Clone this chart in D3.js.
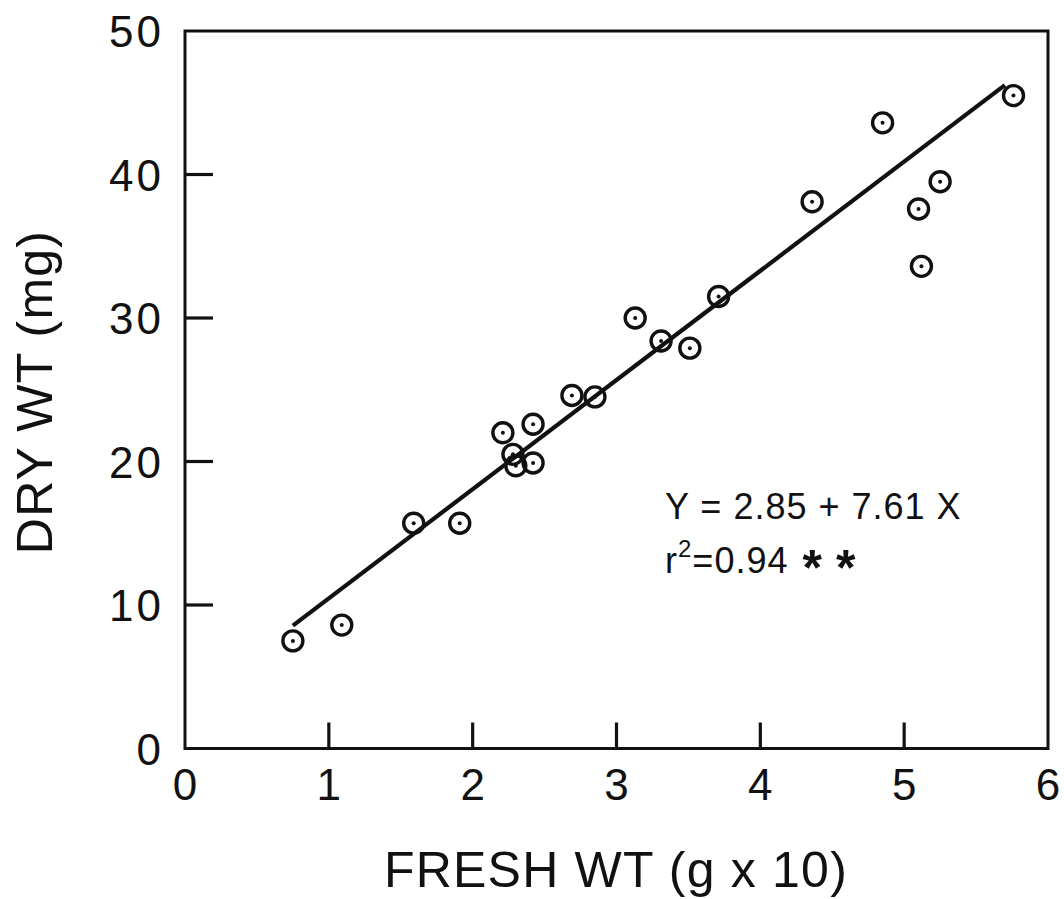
<!DOCTYPE html>
<html>
<head>
<meta charset="utf-8">
<script src="https://cdn.jsdelivr.net/npm/d3@7/dist/d3.min.js"></script>
<style>
  html, body { margin: 0; padding: 0; background: #fff; }
  svg { display: block; }
  text { font-family: "Liberation Sans", "DejaVu Sans", sans-serif; fill: #111; }
</style>
</head>
<body>
<svg id="chart" width="1064" height="899"></svg>
<script>
// Fresh weight (g x 10) and dry weight (mg) of each sample
const freshWt = [0.75, 1.09, 1.59, 1.91, 2.21, 2.28, 2.30, 2.42, 2.42, 2.69, 2.85,
                 3.13, 3.31, 3.51, 3.71, 4.36, 4.85, 5.10, 5.12, 5.25, 5.76];
const dryWt   = [7.5, 8.6, 15.7, 15.7, 22.0, 20.5, 19.7, 19.9, 22.6, 24.6, 24.5,
                 30.0, 28.4, 27.9, 31.5, 38.1, 43.6, 37.6, 33.6, 39.5, 45.5];

// Least-squares fit printed on the chart
const intercept = 2.85;
const slope = 7.61;
const fitRange = [0.75, 5.70];

const xTicks = [0, 1, 2, 3, 4, 5, 6];
const yTicks = [0, 10, 20, 30, 40, 50];

const svg = d3.select("#chart");
const x = d3.scaleLinear().domain([0, 6]).range([185, 1048]);
const y = d3.scaleLinear().domain([0, 50]).range([748.5, 31]);

const ink = "#111";

// Frame
svg.append("rect")
  .attr("x", x(0)).attr("y", y(50))
  .attr("width", x(6) - x(0)).attr("height", y(0) - y(50))
  .attr("fill", "none").attr("stroke", ink).attr("stroke-width", 3);

// Inward ticks on the bottom and left axes
svg.append("g")
  .selectAll("line").data(xTicks.filter(d => d > 0 && d < 6)).join("line")
  .attr("x1", d => x(d)).attr("x2", d => x(d))
  .attr("y1", y(0)).attr("y2", y(0) - 26)
  .attr("stroke", ink).attr("stroke-width", 3.2);

svg.append("g")
  .selectAll("line").data(yTicks.filter(d => d > 0 && d < 50)).join("line")
  .attr("y1", d => y(d)).attr("y2", d => y(d))
  .attr("x1", x(0)).attr("x2", x(0) + 28)
  .attr("stroke", ink).attr("stroke-width", 3.2);

// Tick labels
svg.append("g")
  .selectAll("text").data(xTicks).join("text")
  .attr("x", d => x(d)).attr("y", 800)
  .attr("text-anchor", "middle")
  .attr("font-size", 44)
  .text(d => d);

svg.append("g")
  .selectAll("text").data(yTicks).join("text")
  .attr("x", 164).attr("y", d => y(d) + 16)
  .attr("text-anchor", "end")
  .attr("font-size", 44)
  .attr("letter-spacing", 3)
  .text(d => d);

// Axis titles
svg.append("text")
  .attr("x", 616).attr("y", 887)
  .attr("text-anchor", "middle")
  .attr("font-size", 50)
  .attr("letter-spacing", 1.2)
  .text("FRESH WT (g x 10)");

svg.append("text")
  .attr("transform", "translate(52,392) rotate(-90)")
  .attr("text-anchor", "middle")
  .attr("font-size", 50)
  .attr("letter-spacing", 1.2)
  .text("DRY WT (mg)");

// Regression line
svg.append("line")
  .attr("x1", x(fitRange[0])).attr("y1", y(intercept + slope * fitRange[0]))
  .attr("x2", x(fitRange[1])).attr("y2", y(intercept + slope * fitRange[1]))
  .attr("stroke", ink).attr("stroke-width", 4.2);

// Data points: open circles with a centre dot
const pts = svg.append("g").selectAll("g")
  .data(freshWt.map((f, i) => ({ f, d: dryWt[i] })))
  .join("g")
  .attr("transform", p => `translate(${x(p.f)},${y(p.d)})`);
pts.append("circle").attr("r", 10)
  .attr("fill", "none").attr("stroke", ink).attr("stroke-width", 3.4);
pts.append("circle").attr("r", 2).attr("fill", ink);

// Regression equation and coefficient of determination
svg.append("text")
  .attr("x", 665).attr("y", 519)
  .attr("font-size", 36)
  .attr("letter-spacing", 1)
  .text(`Y = ${intercept.toFixed(2)} + ${slope.toFixed(2)} X`);

const r2 = svg.append("text")
  .attr("x", 665).attr("y", 573)
  .attr("font-size", 36)
  .attr("letter-spacing", 1);
r2.append("tspan").text("r");
r2.append("tspan").attr("font-size", 24).attr("dy", -16).text("2");
r2.append("tspan").attr("dy", 16).text("=0.94");
r2.append("tspan").attr("font-size", 50).attr("font-weight", "bold")
  .attr("dx", 14).attr("dy", 12).attr("letter-spacing", 14).text("**");
</script>
</body>
</html>
